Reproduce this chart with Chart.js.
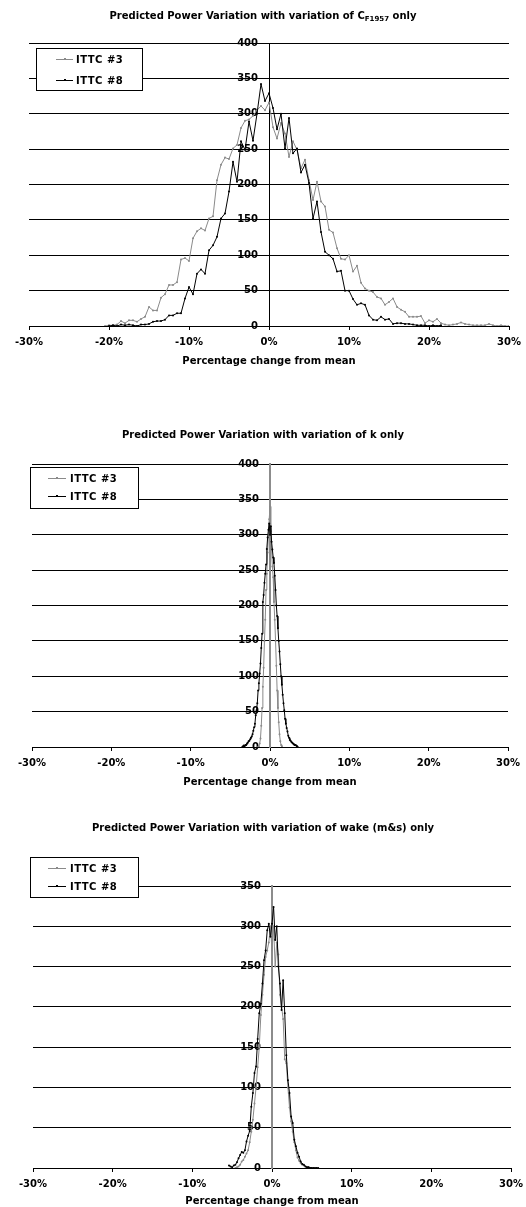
<!DOCTYPE html>
<html>
<head>
<meta charset="utf-8">
<script src="https://cdn.jsdelivr.net/npm/chart.js@4.4.1/dist/chart.umd.min.js"></script>
<style>
  html, body { margin: 0; padding: 0; background: #fff; }
  body { width: 526px; height: 1207px; position: relative; overflow: hidden; font-family: 'DejaVu Sans', sans-serif; }
  canvas { position: absolute; left: 0; }
  .ttl { position: absolute; left: 0; width: 526px; text-align: center; font-weight: bold; font-size: 10px; line-height: 12px; color: #000; white-space: nowrap; }
  .ttl sub { font-size: 7px; vertical-align: -2px; line-height: 0; }
</style>
</head>
<body>
<canvas id="cf" width="526" height="390" style="top:0px"></canvas>
<canvas id="k" width="526" height="400" style="top:400px"></canvas>
<canvas id="wake" width="526" height="407" style="top:800px"></canvas>
<div class="ttl" style="top:10px">Predicted Power Variation with variation of C<sub>F1957</sub> only</div>
<div class="ttl" style="top:429px">Predicted Power Variation with variation of k only</div>
<div class="ttl" style="top:822px">Predicted Power Variation with variation of wake (m&amp;s) only</div>
<script>
// Series labels
const seriesLabels = ['ITTC #3', 'ITTC #8'];
const axisTitle = 'Percentage change from mean';

// Histogram counts, [percentage change, count] per bin — variation of C_F1957
const cfIttc3 = [[-20.5,0],[-20,1],[-19.5,1],[-19,2],[-18.5,7],[-18,4],[-17.5,8],[-17,8],[-16.5,6],[-16,10],
  [-15.5,13],[-15,27],[-14.5,22],[-14,22],[-13.5,40],[-13,45],[-12.5,58],[-12,58],[-11.5,62],[-11,94],
  [-10.5,96],[-10,92],[-9.5,124],[-9,134],[-8.5,138],[-8,135],[-7.5,152],[-7,155],[-6.5,206],[-6,228],
  [-5.5,238],[-5,236],[-4.5,251],[-4,256],[-3.5,280],[-3,290],[-2.5,292],[-2,297],[-1.5,305],[-1,311],
  [-0.5,305],[0,316],[0.5,281],[1,265],[1.5,287],[2,272],[2.5,239],[3,261],[3.5,249],[4,223],
  [4.5,235],[5,206],[5.5,178],[6,204],[6.5,176],[7,169],[7.5,136],[8,132],[8.5,110],[9,95],
  [9.5,94],[10,100],[10.5,77],[11,85],[11.5,61],[12,53],[12.5,50],[13,48],[13.5,41],[14,39],
  [14.5,30],[15,34],[15.5,39],[16,27],[16.5,23],[17,20],[17.5,13],[18,13],[18.5,13],[19,14],
  [19.5,4],[20,8],[20.5,6],[21,10],[21.5,4],[22,2],[22.5,1],[23,2],[23.5,3],[24,5],
  [24.5,3],[25,2],[25.5,1],[26,1],[26.5,1],[27,1],[27.5,3],[28,1],[28.5,0],[29,1],[29.5,0],[30,0]];
const cfIttc8 = [[-20,0],[-19.5,1],[-19,0],[-18.5,2],[-18,1],[-17.5,2],[-17,1],[-16.5,0],[-16,2],[-15.5,2],
  [-15,3],[-14.5,6],[-14,7],[-13.5,7],[-13,9],[-12.5,15],[-12,15],[-11.5,18],[-11,18],[-10.5,39],
  [-10,55],[-9.5,45],[-9,74],[-8.5,80],[-8,74],[-7.5,107],[-7,114],[-6.5,126],[-6,152],[-5.5,159],
  [-5,190],[-4.5,232],[-4,204],[-3.5,261],[-3,249],[-2.5,289],[-2,262],[-1.5,300],[-1,342],[-0.5,318],
  [0,329],[0.5,308],[1,278],[1.5,300],[2,251],[2.5,294],[3,244],[3.5,251],[4,217],[4.5,228],
  [5,202],[5.5,152],[6,176],[6.5,133],[7,105],[7.5,100],[8,95],[8.5,77],[9,78],[9.5,50],
  [10,50],[10.5,38],[11,30],[11.5,32],[12,30],[12.5,15],[13,9],[13.5,8],[14,13],[14.5,9],
  [15,10],[15.5,3],[16,4],[16.5,4],[17,3],[17.5,3],[18,2],[18.5,1],[19,1],[19.5,1],
  [20,0],[20.5,1],[21,0],[21.5,1]];

// Variation of k
const kIttc3 = [[-1.5,0],[-1.4,1],[-1.3,5],[-1.2,12],[-1.1,30],[-1,55],[-0.9,85],[-0.8,112],[-0.7,150],[-0.6,180],
  [-0.5,222],[-0.4,245],[-0.3,275],[-0.2,300],[-0.1,322],[0,340],[0.1,305],[0.2,280],[0.3,255],[0.4,240],
  [0.5,205],[0.6,180],[0.7,150],[0.8,115],[0.9,80],[1,55],[1.1,35],[1.2,18],[1.3,8],[1.4,3],[1.5,0]];
const kIttc8 = [[-3.5,0],[-3.4,1],[-3.3,2],[-3.2,1],[-3.1,3],[-3,3],[-2.9,5],[-2.8,6],[-2.7,8],[-2.6,9],
  [-2.5,11],[-2.4,13],[-2.3,15],[-2.2,18],[-2.1,23],[-2,28],[-1.9,33],[-1.8,45],[-1.7,52],[-1.6,62],
  [-1.5,80],[-1.4,90],[-1.3,104],[-1.2,118],[-1.1,140],[-1,160],[-0.9,205],[-0.8,215],[-0.7,232],[-0.6,245],
  [-0.5,258],[-0.4,280],[-0.3,296],[-0.2,307],[-0.1,316],[0,300],[0.1,312],[0.2,290],[0.3,279],[0.4,268],
  [0.5,260],[0.6,242],[0.7,222],[0.8,200],[0.9,185],[1,168],[1.1,150],[1.2,135],[1.3,117],[1.4,100],
  [1.5,88],[1.6,74],[1.7,62],[1.8,52],[1.9,40],[2,33],[2.1,27],[2.2,22],[2.3,16],[2.4,13],
  [2.5,10],[2.6,9],[2.7,7],[2.8,6],[2.9,5],[3,4],[3.1,3],[3.2,3],[3.3,2],[3.4,1],[3.5,0]];

// Variation of wake (model & ship)
const wakeIttc3 = [[-4.6,0],[-4.4,1],[-4.2,2],[-4,4],[-3.8,8],[-3.6,10],[-3.4,14],[-3.2,18],[-3,22],[-2.8,32],
  [-2.6,45],[-2.4,60],[-2.2,80],[-2,100],[-1.8,125],[-1.6,150],[-1.4,190],[-1.2,215],[-1,240],[-0.8,262],
  [-0.6,270],[-0.4,280],[-0.2,300],[0,270],[0.2,300],[0.4,250],[0.6,280],[0.8,265],[1,215],[1.2,200],
  [1.4,185],[1.6,135],[1.8,130],[2,100],[2.2,75],[2.4,58],[2.6,45],[2.8,32],[3,22],[3.2,13],
  [3.4,9],[3.6,6],[3.8,4],[4,3],[4.2,2],[4.4,1],[4.6,1],[4.8,0],[5,0]];
const wakeIttc8 = [[-5.4,3],[-5.2,2],[-5,1],[-4.8,3],[-4.6,4],[-4.4,7],[-4.2,12],[-4,16],[-3.8,20],[-3.6,19],
  [-3.4,22],[-3.2,33],[-3,40],[-2.8,46],[-2.6,76],[-2.4,93],[-2.2,118],[-2,126],[-1.8,160],[-1.6,192],
  [-1.4,204],[-1.2,229],[-1,258],[-0.8,270],[-0.6,295],[-0.4,303],[-0.2,287],[0,303],[0.2,324],[0.4,283],
  [0.6,300],[0.8,250],[1,229],[1.2,196],[1.4,233],[1.6,192],[1.8,140],[2,109],[2.2,93],[2.4,64],
  [2.6,56],[2.8,35],[3,27],[3.2,19],[3.4,14],[3.6,8],[3.8,5],[4,4],[4.2,2],[4.4,1],
  [4.6,1],[4.8,0],[5,0],[5.2,0],[5.4,0],[5.6,0],[5.8,0]];

// X axis ticks (percent)
const xMin = -30, xMax = 30, xStep = 10;

Chart.defaults.font.family = "'DejaVu Sans', sans-serif";
Chart.defaults.font.size = 10;
Chart.defaults.font.weight = 'bold';
Chart.defaults.color = '#000';

// Linear scale whose labels sit a little away from an axis placed at x = 0
const LABEL_GAP = 11;
class GapLinearScale extends Chart.LinearScale {
  _computeLabelItems(chartArea) {
    const items = super._computeLabelItems(chartArea);
    items.forEach(it => {
      if (it.options && it.options.translation) it.options.translation[0] -= LABEL_GAP;
    });
    return items;
  }
}
GapLinearScale.id = 'gapLinear';
GapLinearScale.defaults = Chart.LinearScale.defaults;
Chart.register(GapLinearScale);

// Boxed legend drawn inside the plot
const boxLegend = {
  id: 'boxLegend',
  afterDraw(chart, args, o) {
    const ctx = chart.ctx;
    ctx.save();
    ctx.fillStyle = '#fff';
    ctx.fillRect(o.x, o.y, o.w, o.h);
    ctx.strokeStyle = '#000';
    ctx.lineWidth = 1;
    ctx.strokeRect(o.x + 0.5, o.y + 0.5, o.w, o.h);
    ctx.font = "bold 10px 'DejaVu Sans', sans-serif";
    ctx.textBaseline = 'middle';
    ctx.textAlign = 'left';
    if ('letterSpacing' in ctx) ctx.letterSpacing = '0.5px';
    chart.data.datasets.forEach((ds, i) => {
      const cy = Math.round(o.y + o.row0 + i * o.rowGap) + 0.5;
      ctx.strokeStyle = ds.borderColor;
      ctx.beginPath();
      ctx.moveTo(o.x + o.l0, cy);
      ctx.lineTo(o.x + o.l1, cy);
      ctx.stroke();
      ctx.fillStyle = ds.borderColor;
      const mx = Math.round(o.x + (o.l0 + o.l1) / 2);
      ctx.fillRect(mx - 1, cy - 1.5, 2, 2);
      ctx.fillStyle = '#000';
      ctx.fillText(ds.label, o.x + o.tx, cy + 0.5);
    });
    ctx.restore();
  }
};

function build(id, s3, s8, yMax, yBorder, lay, leg) {
  return new Chart(document.getElementById(id), {
    type: 'line',
    data: {
      datasets: [
        { label: seriesLabels[0], data: s3, borderColor: '#8a8a8a', backgroundColor: '#8a8a8a',
          borderWidth: 1, pointRadius: 1, pointBorderWidth: 0, pointBackgroundColor: '#8a8a8a', order: 1 },
        { label: seriesLabels[1], data: s8, borderColor: '#000', backgroundColor: '#000',
          borderWidth: 1, pointRadius: 1, pointBorderWidth: 0, pointBackgroundColor: '#000', order: 0 }
      ]
    },
    options: {
      responsive: false,
      animation: false,
      events: [],
      layout: { padding: { left: lay.left, right: lay.right, top: lay.top, bottom: 0 } },
      plugins: { legend: { display: false }, tooltip: { enabled: false }, boxLegend: leg },
      scales: {
        x: {
          type: 'linear', min: xMin, max: xMax,
          ticks: { stepSize: xStep, padding: 6, callback: v => v + '%' },
          grid: { drawOnChartArea: false, drawTicks: true, tickLength: 4, color: '#000' },
          border: { display: true, color: '#000' },
          title: { display: true, text: axisTitle, padding: { top: 0, bottom: lay.titlePad } },
          afterFit(sc) { sc.height = lay.xH; sc.paddingLeft = 0; sc.paddingRight = 0; }
        },
        y: {
          type: 'gapLinear', position: { x: 0 }, min: 0, max: yMax,
          ticks: { stepSize: 50 },
          grid: { color: '#000', tickLength: 8 },
          border: { display: true, color: yBorder.color, width: yBorder.width }
        }
      }
    },
    plugins: [boxLegend]
  });
}

build('cf', cfIttc3, cfIttc8, 400, { color: '#000', width: 1 },
  { left: 29, right: 17, top: 43, xH: 64, titlePad: 23 },
  { x: 36, y: 48, w: 106, h: 42, row0: 11, rowGap: 21, l0: 20, l1: 37, tx: 40 });
build('k', kIttc3, kIttc8, 400, { color: '#8c8c8c', width: 2 },
  { left: 32, right: 18, top: 64, xH: 53, titlePad: 12 },
  { x: 30, y: 67, w: 108, h: 41, row0: 11, rowGap: 18, l0: 18, l1: 36, tx: 40 });
build('wake', wakeIttc3, wakeIttc8, 350, { color: '#8c8c8c', width: 2 },
  { left: 33, right: 15, top: 86, xH: 39, titlePad: 0 },
  { x: 30, y: 57, w: 108, h: 40, row0: 11, rowGap: 18, l0: 18, l1: 36, tx: 40 });
</script>
</body>
</html>
